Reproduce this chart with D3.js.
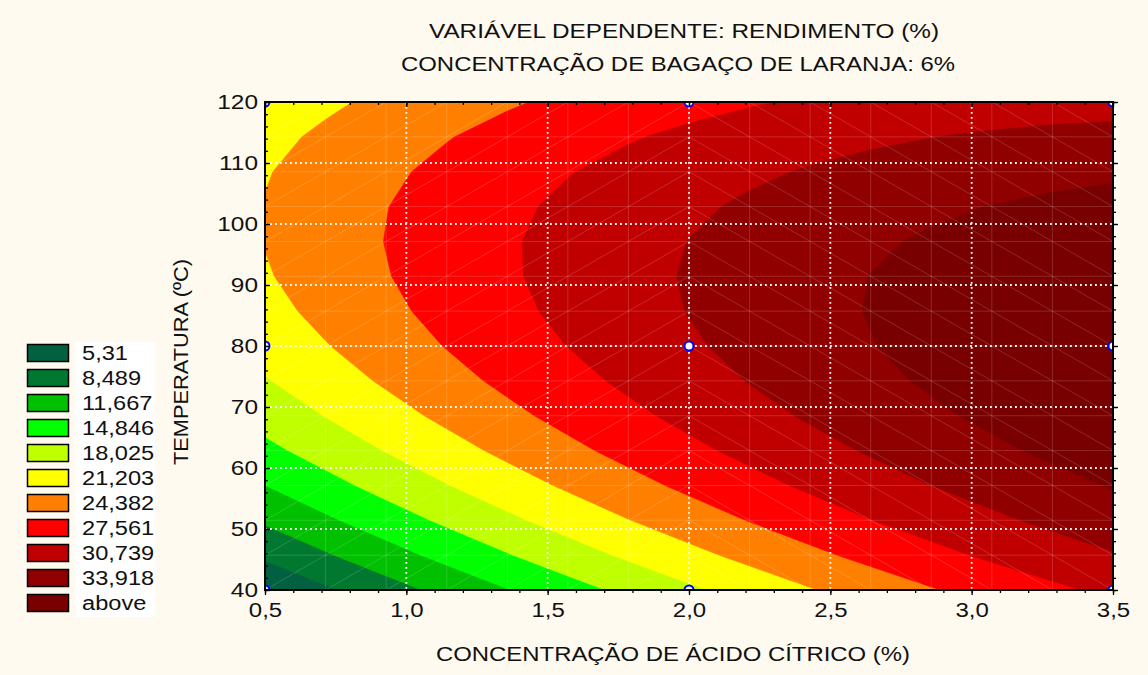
<!DOCTYPE html>
<html>
<head>
<meta charset="utf-8">
<script src="https://cdn.jsdelivr.net/npm/d3@7"></script>
<style>
  html, body { margin: 0; padding: 0; background: #fffaf0; }
  svg { display: block; font-family: "Liberation Sans", Arial, sans-serif; }
</style>
</head>
<body>
<svg id="chart" width="1148" height="675"></svg>
<script>
// ---- Data -------------------------------------------------------------
// Factor levels of the 3x3 design (citric acid %, temperature °C)
const acidLevels = [0.5, 2.0, 3.5];
const tempLevels = [40, 80, 120];
// Yield (%) at each design point, one array per temperature, ordered by acid level
const yieldAt40 = [2.44, 17.49, 28.24];
const yieldAt80 = [19.20, 30.35, 37.20];
const yieldAt120 = [19.37, 26.62, 29.57];
// Contour levels and legend
const contourLevels = [5.31, 8.489, 11.667, 14.846, 18.025, 21.203, 24.382, 27.561, 30.739, 33.918];
const levelLabels = ["5,31", "8,489", "11,667", "14,846", "18,025", "21,203", "24,382", "27,561", "30,739", "33,918", "above"];
const levelColors = ["#006040", "#007830", "#00c000", "#00ff00", "#c0ff00", "#ffff00",
                     "#ff8000", "#ff0000", "#c00000", "#900000", "#780000"];
// Axis ticks
const xTicks = [0.5, 1.0, 1.5, 2.0, 2.5, 3.0, 3.5];
const yTicks = [40, 50, 60, 70, 80, 90, 100, 110, 120];

const titleLines = ["VARIÁVEL DEPENDENTE: RENDIMENTO (%)", "CONCENTRAÇÃO DE BAGAÇO DE LARANJA: 6%"];
const xTitle = "CONCENTRAÇÃO DE ÁCIDO CÍTRICO (%)";
const yTitle = "TEMPERATURA (ºC)";

// ---- Layout -----------------------------------------------------------
const svg = d3.select("#chart");
const plot = { left: 265, right: 1113, top: 102, bottom: 590 };
const xScale = d3.scaleLinear().domain([0.5, 3.5]).range([plot.left, plot.right]);
const yScale = d3.scaleLinear().domain([40, 120]).range([plot.bottom, plot.top]);
const comma = d => d3.format(".1f")(d).replace(".", ",");
const FONT = "'Liberation Sans', Arial, sans-serif";

// Widen text horizontally (the lettering of this chart is set wide)
function widen(sel, k) {
  sel.each(function () {
    const w = this.getComputedTextLength();
    d3.select(this).attr("textLength", w * k).attr("lengthAdjust", "spacingAndGlyphs");
  });
}

// ---- Quadratic response surface fitted by least squares ---------------
const yieldRows = [yieldAt40, yieldAt80, yieldAt120];
const aMid = d3.mean(acidLevels), aHalf = (d3.max(acidLevels) - d3.min(acidLevels)) / 2;
const tMid = d3.mean(tempLevels), tHalf = (d3.max(tempLevels) - d3.min(tempLevels)) / 2;
function terms(a, t) {
  const u = (a - aMid) / aHalf, v = (t - tMid) / tHalf;
  return [1, u, v, u * u, v * v, u * v];
}
const nTerms = 6;
const M = Array.from({ length: nTerms }, () => new Array(nTerms).fill(0));
const rhs = new Array(nTerms).fill(0);
tempLevels.forEach((t, r) => acidLevels.forEach((a, c) => {
  const f = terms(a, t), z = yieldRows[r][c];
  for (let i = 0; i < nTerms; i++) {
    rhs[i] += f[i] * z;
    for (let j = 0; j < nTerms; j++) M[i][j] += f[i] * f[j];
  }
}));
function solve(A, b) {
  const n = b.length, m = A.map((row, i) => row.concat([b[i]]));
  for (let c = 0; c < n; c++) {
    let p = c;
    for (let r = c + 1; r < n; r++) if (Math.abs(m[r][c]) > Math.abs(m[p][c])) p = r;
    [m[c], m[p]] = [m[p], m[c]];
    for (let r = 0; r < n; r++) {
      if (r === c) continue;
      const k = m[r][c] / m[c][c];
      for (let j = c; j <= n; j++) m[r][j] -= k * m[c][j];
    }
  }
  return m.map((row, i) => row[n] / row[i]);
}
const coef = solve(M, rhs);
const surface = (a, t) => d3.sum(terms(a, t), (f, i) => f * coef[i]);

// Evaluate on a 15x15 mesh (row 0 = top of the plot)
const nMesh = 15;
const gridToAcid = d3.scaleLinear().domain([0.5, nMesh - 0.5]).range([0.5, 3.5]);
const gridToTemp = d3.scaleLinear().domain([0.5, nMesh - 0.5]).range([120, 40]);
const values = [];
for (let j = 0; j < nMesh; j++)
  for (let i = 0; i < nMesh; i++)
    values.push(surface(gridToAcid(i + 0.5), gridToTemp(j + 0.5)));

// ---- Plot area ---------------------------------------------------------
svg.append("defs").append("clipPath").attr("id", "plotClip")
  .append("rect")
  .attr("x", plot.left).attr("y", plot.top)
  .attr("width", plot.right - plot.left).attr("height", plot.bottom - plot.top);

const area = svg.append("g").attr("clip-path", "url(#plotClip)");

area.append("rect")
  .attr("x", plot.left).attr("y", plot.top)
  .attr("width", plot.right - plot.left).attr("height", plot.bottom - plot.top)
  .attr("fill", levelColors[0]);

const projection = d3.geoTransform({
  point(x, y) { this.stream.point(xScale(gridToAcid(x)), yScale(gridToTemp(y))); }
});
const path = d3.geoPath(projection);
const bands = d3.contours().size([nMesh, nMesh]).thresholds(contourLevels)(values);

area.selectAll("path.band")
  .data(bands)
  .join("path")
  .attr("class", "band")
  .attr("d", path)
  .attr("fill", (d, i) => levelColors[i + 1])
  .attr("stroke", (d, i) => levelColors[i + 1])
  .attr("stroke-width", 0.6);

// Faint triangulation mesh
const mesh = area.append("g")
  .attr("stroke", "#ffffff").attr("stroke-opacity", 0.2).attr("stroke-width", 0.8).attr("fill", "none");
const nodeA = d3.range(nMesh).map(i => gridToAcid(i + 0.5));
const nodeT = d3.range(nMesh).map(j => gridToTemp(j + 0.5));
nodeA.slice(1, -1).forEach(a => mesh.append("line")
  .attr("x1", xScale(a)).attr("x2", xScale(a)).attr("y1", plot.top).attr("y2", plot.bottom));
nodeT.slice(1, -1).forEach(t => mesh.append("line")
  .attr("y1", yScale(t)).attr("y2", yScale(t)).attr("x1", plot.left).attr("x2", plot.right));
for (let i = 0; i < nMesh - 1; i++) {
  for (let j = 0; j < nMesh - 1; j++) {
    const a0 = nodeA[i], a1 = nodeA[i + 1], tTop = nodeT[j], tBot = nodeT[j + 1];
    const rising = (a0 + a1) / 2 < 2;
    mesh.append("line")
      .attr("x1", xScale(a0)).attr("x2", xScale(a1))
      .attr("y1", yScale(rising ? tBot : tTop)).attr("y2", yScale(rising ? tTop : tBot));
  }
}

// Dotted grid at major ticks
const grid = area.append("g")
  .attr("stroke", "#ffffff").attr("stroke-width", 1.8).attr("stroke-dasharray", "1.8,3.2");
xTicks.slice(1, -1).forEach(a => grid.append("line")
  .attr("x1", xScale(a)).attr("x2", xScale(a)).attr("y1", plot.top).attr("y2", plot.bottom));
yTicks.slice(1, -1).forEach(t => grid.append("line")
  .attr("y1", yScale(t)).attr("y2", yScale(t)).attr("x1", plot.left).attr("x2", plot.right));

// Design points
const points = [];
tempLevels.forEach(t => acidLevels.forEach(a => points.push({ a, t })));
area.selectAll("circle.pt")
  .data(points)
  .join("circle")
  .attr("class", "pt")
  .attr("cx", d => xScale(d.a)).attr("cy", d => yScale(d.t))
  .attr("r", 4.5)
  .attr("fill", "#ffffff").attr("stroke", "#0000ff").attr("stroke-width", 2);

// ---- Axes --------------------------------------------------------------
function styleAxis(g) {
  g.select(".domain").remove();
  g.selectAll(".tick line").attr("stroke", "#000").attr("stroke-width", 1.3);
  g.selectAll("text").attr("fill", "#111").attr("font-size", "20px").attr("font-family", FONT);
}
const minorX = d3.range(5, 36).map(v => v / 10);
const minorY = d3.range(40, 121, 2);

svg.append("g").attr("transform", `translate(0,${plot.bottom})`)
  .call(d3.axisBottom(xScale).tickValues(minorX).tickSize(3).tickFormat(""))
  .call(styleAxis);
const xAxisG = svg.append("g").attr("transform", `translate(0,${plot.bottom})`)
  .call(d3.axisBottom(xScale).tickValues(xTicks).tickSize(5).tickPadding(8).tickFormat(comma))
  .call(styleAxis);
svg.append("g").attr("transform", `translate(0,${plot.top})`)
  .call(d3.axisTop(xScale).tickValues(minorX).tickSize(-3).tickFormat(""))
  .call(styleAxis);
svg.append("g").attr("transform", `translate(0,${plot.top})`)
  .call(d3.axisTop(xScale).tickValues(xTicks).tickSize(-5).tickFormat(""))
  .call(styleAxis);
svg.append("g").attr("transform", `translate(${plot.left},0)`)
  .call(d3.axisLeft(yScale).tickValues(minorY).tickSize(-3).tickFormat(""))
  .call(styleAxis);
const yAxisG = svg.append("g").attr("transform", `translate(${plot.left},0)`)
  .call(d3.axisLeft(yScale).tickValues(yTicks).tickSize(-5).tickPadding(7).tickFormat(d3.format("d")))
  .call(styleAxis);
svg.append("g").attr("transform", `translate(${plot.right},0)`)
  .call(d3.axisRight(yScale).tickValues(minorY).tickSize(3).tickFormat(""))
  .call(styleAxis);
svg.append("g").attr("transform", `translate(${plot.right},0)`)
  .call(d3.axisRight(yScale).tickValues(yTicks).tickSize(5).tickFormat(""))
  .call(styleAxis);
xAxisG.selectAll("text").call(widen, 1.2);
yAxisG.selectAll("text").call(widen, 1.22);

svg.append("rect")
  .attr("x", plot.left).attr("y", plot.top)
  .attr("width", plot.right - plot.left).attr("height", plot.bottom - plot.top)
  .attr("fill", "none").attr("stroke", "#000").attr("stroke-width", 2);

// ---- Titles ------------------------------------------------------------
svg.selectAll("text.title")
  .data(titleLines)
  .join("text")
  .attr("class", "title")
  .attr("x", (d, i) => i === 0 ? 684 : 678).attr("y", (d, i) => 38 + i * 33)
  .attr("text-anchor", "middle").attr("font-size", "21px").attr("fill", "#111")
  .attr("textLength", (d, i) => i === 0 ? 510 : 554)
  .attr("lengthAdjust", "spacingAndGlyphs")
  .text(d => d);

svg.append("text")
  .attr("x", 673).attr("y", 661)
  .attr("text-anchor", "middle").attr("font-size", "21px").attr("fill", "#111")
  .attr("textLength", 474).attr("lengthAdjust", "spacingAndGlyphs")
  .text(xTitle);

svg.append("text")
  .attr("transform", "translate(188,362) rotate(-90)")
  .attr("text-anchor", "middle").attr("font-size", "21px").attr("fill", "#111")
  .attr("textLength", 206).attr("lengthAdjust", "spacingAndGlyphs")
  .text(yTitle);

// ---- Legend ------------------------------------------------------------
const legend = svg.append("g");
legend.append("rect")
  .attr("x", 75).attr("y", 342).attr("width", 80).attr("height", 275)
  .attr("fill", "#ffffff");
const rows = legend.selectAll("g.row")
  .data(levelLabels)
  .join("g")
  .attr("class", "row")
  .attr("transform", (d, i) => `translate(0,${344 + i * 25})`);
rows.append("rect")
  .attr("x", 27.5).attr("y", 0.5).attr("width", 41).attr("height", 17)
  .attr("fill", (d, i) => levelColors[i])
  .attr("stroke", "#000").attr("stroke-width", 1.5);
rows.append("text")
  .attr("x", 82).attr("y", 16)
  .attr("font-size", "20px").attr("fill", "#111")
  .text(d => d)
  .call(widen, 1.18);
</script>
</body>
</html>
